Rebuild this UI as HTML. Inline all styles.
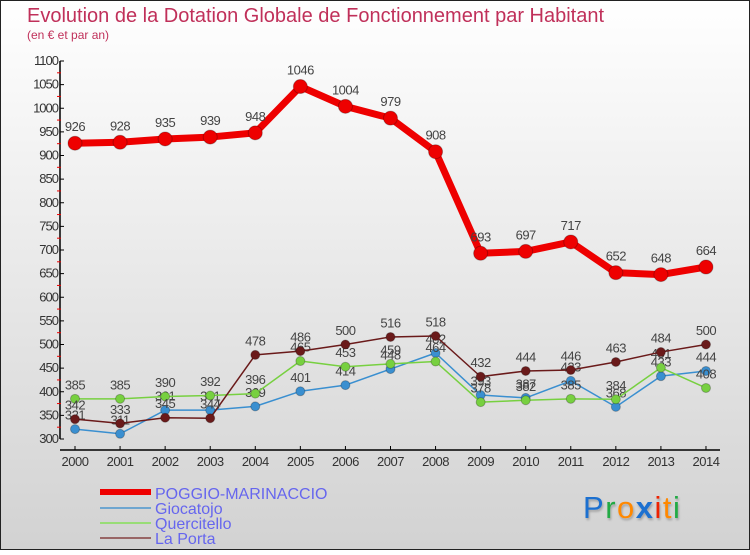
<!DOCTYPE html>
<html><head><meta charset="utf-8">
<style>
body{margin:0;width:750px;height:550px;overflow:hidden;font-family:"Liberation Sans",sans-serif;}
svg text{font-family:"Liberation Sans","DejaVu Sans",sans-serif;}
</style></head>
<body>
<svg id="c" width="750" height="550" xmlns="http://www.w3.org/2000/svg">
<defs>
<linearGradient id="bg" x1="0" y1="0" x2="0" y2="1">
<stop offset="0" stop-color="#ffffff"/><stop offset="1" stop-color="#d2d2d2"/>
</linearGradient>
<filter id="sh" x="-20%" y="-20%" width="140%" height="140%"><feDropShadow dx="1" dy="2" stdDeviation="1" flood-color="#000" flood-opacity="0.25"/></filter>
</defs>
<rect x="0" y="0" width="750" height="550" fill="url(#bg)" stroke="#222" stroke-width="2"/>
<text x="27" y="22" font-size="20" fill="#c0305a">Evolution de la Dotation Globale de Fonctionnement par Habitant</text>
<text x="27" y="39" font-size="12" fill="#c0305a">(en € et par an)</text>
<g id="axes"></g>
<g id="series"></g>
<g id="legend">
<rect x="100" y="489" width="51" height="6" fill="#ee0000"/>
<text x="155" y="499" font-size="16" fill="#6666ee">POGGIO-MARINACCIO</text>
<rect x="100" y="507" width="51" height="2" fill="#6ea6d0"/>
<text x="155" y="514" font-size="16" fill="#6666ee">Giocatojo</text>
<rect x="100" y="522" width="51" height="2" fill="#99dd77"/>
<text x="155" y="529" font-size="16" fill="#6666ee">Quercitello</text>
<rect x="100" y="537" width="51" height="2" fill="#996666"/>
<text x="155" y="544" font-size="16" fill="#6666ee">La Porta</text>
</g>
<text x="583" y="518" font-size="31" letter-spacing="1.5" filter="url(#sh)"><tspan fill="#1a6fd0">P</tspan><tspan fill="#22aa44">r</tspan><tspan fill="#ff8800">o</tspan><tspan fill="#1a6fd0" font-weight="bold">x</tspan><tspan fill="#ee2200">i</tspan><tspan fill="#ff8800">t</tspan><tspan fill="#22aa44">i</tspan></text>
</svg>
<script>
const years=["2000","2001","2002","2003","2004","2005","2006","2007","2008","2009","2010","2011","2012","2013","2014"];
const yTicks=[300,350,400,450,500,550,600,650,700,750,800,850,900,950,1000,1050,1100];
const poggio=[926,928,935,939,948,1046,1004,979,908,693,697,717,652,648,664];
const giocatojo=[321,311,361,361,369,401,414,448,482,393,387,423,368,433,444];
const quercitello=[385,385,390,392,396,465,453,459,464,378,382,385,384,451,408];
const laPorta=[342,333,345,344,478,486,500,516,518,432,444,446,463,484,500];
const NS="http://www.w3.org/2000/svg";
function X(i){return 75+i*45.07;}
function Y(v){return 61+(1100-v)*0.4725;}
function mk(tag,attrs,parent){const e=document.createElementNS(NS,tag);for(const k in attrs)e.setAttribute(k,attrs[k]);parent.appendChild(e);return e;}
const ax=document.getElementById('axes');
let l=mk('line',{x1:60,y1:Y(1100),x2:60,y2:Y(300),stroke:'#000','stroke-width':1.5},ax);


l=mk('line',{x1:60,y1:450,x2:720,y2:450,stroke:'#000','stroke-width':1.5},ax);


yTicks.forEach((v,i)=>{
 mk('line',{x1:60,y1:Y(v),x2:64,y2:Y(v),stroke:'#000'},ax);
 if(i<yTicks.length-1) mk('line',{x1:57,y1:Y(v+25),x2:61,y2:Y(v+25),stroke:'#e00'},ax);
 const t=mk('text',{x:58,y:Y(v)+4,'font-size':13,'text-anchor':'end',fill:'#333','letter-spacing':'-1'},ax);
 t.textContent=v;
 
 
});
years.forEach((y,i)=>{
 mk('line',{x1:X(i),y1:446,x2:X(i),y2:450,stroke:'#000'},ax);
 const t=mk('text',{x:X(i),y:466,'font-size':13,'text-anchor':'middle',fill:'#333','letter-spacing':'-0.5'},ax);
 t.textContent=y;
 
 
});
const sg=document.getElementById('series');
function draw(name,vals,color,w,r){
 const g=mk('g',{},sg);
 
 
 const p=mk('polyline',{points:vals.map((v,i)=>X(i)+','+Y(v)).join(' '),fill:'none',stroke:color,'stroke-width':w,'stroke-linejoin':'round'},g);
 
 
 vals.forEach((v,i)=>{
  const c=mk('circle',{cx:X(i),cy:Y(v),r:r,fill:color,stroke:'rgba(0,0,0,0.25)','stroke-width':1},g);
  
  
  const t=mk('text',{x:X(i),y:Y(v)-(r+5),'font-size':13,'text-anchor':'middle',fill:'#444','letter-spacing':'-0.5'},g);
  t.textContent=v;
  
  
 });
}
draw('giocatojo',giocatojo,'#3a8fd0',1.5,4.5);
draw('quercitello',quercitello,'#77d040',1.5,4.5);
draw('la-porta',laPorta,'#6a1a1a',1.5,4.5);
draw('poggio-marinaccio',poggio,'#ee0000',7,7);
</script>
</body></html>
